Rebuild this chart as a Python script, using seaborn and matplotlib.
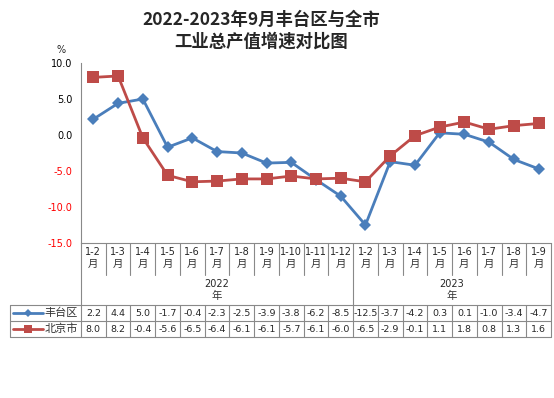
import numpy as np
import pandas as pd
import matplotlib
matplotlib.use("Agg")
import matplotlib.pyplot as plt
from matplotlib.lines import Line2D
from matplotlib.transforms import blended_transform_factory
import seaborn as sb

sb.set_style("white")
plt.rcParams['font.family'] = ['Noto Sans CJK SC', 'DejaVu Sans']

# data
months = ["1-2", "1-3", "1-4", "1-5", "1-6", "1-7", "1-8", "1-9", "1-10", "1-11", "1-12",
          "1-2", "1-3", "1-4", "1-5", "1-6", "1-7", "1-8", "1-9"]
years = ["2022", "2023"]
year_counts = [11, 8]
fengtai = [2.2, 4.4, 5.0, -1.7, -0.4, -2.3, -2.5, -3.9, -3.8, -6.2, -8.5,
           -12.5, -3.7, -4.2, 0.3, 0.1, -1.0, -3.4, -4.7]
beijing = [8.0, 8.2, -0.4, -5.6, -6.5, -6.4, -6.1, -6.1, -5.7, -6.1, -6.0,
           -6.5, -2.9, -0.1, 1.1, 1.8, 0.8, 1.3, 1.6]
serii = ["丰台区", "北京市"]
culori = {"丰台区": "#4A7EBB", "北京市": "#BE4B48"}
y_ticks = [-15, -10, -5, 0, 5, 10]

W, H = 554, 398


def py(y):
    return 1 - y / H


def px(x):
    return x / W


n = len(months)
t = pd.DataFrame({
    "poz": list(range(n)) * 2,
    "valoare": fengtai + beijing,
    "serie": [serii[0]] * n + [serii[1]] * n,
})

fig = plt.figure(figsize=(W / 100, H / 100), dpi=100)
ax = fig.add_axes([px(81), py(243), px(470), 180 / H])

sb.lineplot(data=t, x="poz", y="valoare", hue="serie", style="serie",
            palette=culori, markers={"丰台区": "D", "北京市": "s"}, dashes=False,
            linewidth=2.0, markersize=7, markeredgewidth=0, legend=False,
            sort=False, ax=ax)
# make squares a bit bigger
for ln in ax.get_lines():
    if ln.get_marker() == "s":
        ln.set_markersize(8)
    else:
        ln.set_markersize(6.5)

ax.set_xlim(-0.5, n - 0.5)
ax.set_ylim(-15, 10)
ax.set_xticks([])
ax.set_yticks(y_ticks)
ax.set_yticklabels(["%.1f" % v for v in y_ticks], fontsize=7, family="DejaVu Sans")
for lab, v in zip(ax.get_yticklabels(), y_ticks):
    lab.set_color("#FF0000" if v < 0 else "black")
ax.tick_params(axis="y", length=0, pad=6)
ax.set_xlabel("")
ax.set_ylabel("")
for s in ["top", "right"]:
    ax.spines[s].set_visible(False)
for s in ["left", "bottom"]:
    ax.spines[s].set_color("#898989")
    ax.spines[s].set_linewidth(0.8)

fig.text(px(61), py(50), "%", fontsize=7, ha="center", va="center", family="DejaVu Sans")

# title
fig.text(px(261), py(20), "2022-2023年9月丰台区与全市", fontsize=12.5, fontweight="bold",
         ha="center", va="center")
fig.text(px(261), py(42), "工业总产值增速对比图", fontsize=12.5, fontweight="bold",
         ha="center", va="center")

# table under the axis
tr = blended_transform_factory(ax.transData, fig.transFigure)
gri = "#898989"


def linie(xs, ys, transform):
    ax.plot(xs, ys, color=gri, linewidth=0.8, transform=transform, clip_on=False)


for i in range(1, n):
    if i == year_counts[0]:
        linie([i - 0.5, i - 0.5], [py(243), py(305)], tr)
    else:
        linie([i - 0.5, i - 0.5], [py(243), py(275)], tr)
linie([-0.5, -0.5], [py(243), py(337)], tr)
linie([n - 0.5, n - 0.5], [py(243), py(337)], tr)
for i in range(1, n):
    linie([i - 0.5, i - 0.5], [py(305), py(337)], tr)
for yy in [305, 321, 337]:
    fig.add_artist(Line2D([px(10), px(81)], [py(yy), py(yy)], color=gri, linewidth=0.8))
    linie([-0.5, n - 0.5], [py(yy), py(yy)], tr)
fig.add_artist(Line2D([px(10), px(10)], [py(305), py(337)], color=gri, linewidth=0.8))

for i, m in enumerate(months):
    ax.text(i, py(252), m, transform=tr, ha="center", va="center", fontsize=7,
            family="DejaVu Sans")
    ax.text(i, py(264), "月", transform=tr, ha="center", va="center", fontsize=7.5,
            color="#333333")

start = 0
for an, cnt in zip(years, year_counts):
    mid = start + (cnt - 1) / 2
    ax.text(mid, py(284), an, transform=tr, ha="center", va="center", fontsize=7,
            family="DejaVu Sans")
    ax.text(mid, py(296), "年", transform=tr, ha="center", va="center", fontsize=7.5,
            color="#333333")
    start += cnt

for serie, vals, yy, mk, ms in [(serii[0], fengtai, 313, "D", 4.5),
                                (serii[1], beijing, 329, "s", 6)]:
    fig.add_artist(Line2D([px(13), px(43)], [py(yy), py(yy)], color=culori[serie],
                          linewidth=2.0))
    fig.add_artist(Line2D([px(28)], [py(yy)], color=culori[serie], marker=mk,
                          markersize=ms, markeredgewidth=0))
    fig.text(px(61), py(yy), serie, fontsize=8, ha="center", va="center", color="#333333")
    for i, v in enumerate(vals):
        ax.text(i, py(yy), "%.1f" % v, transform=tr, ha="center", va="center",
                fontsize=6.8, family="DejaVu Sans")

fig.savefig("out.png", dpi=100)
